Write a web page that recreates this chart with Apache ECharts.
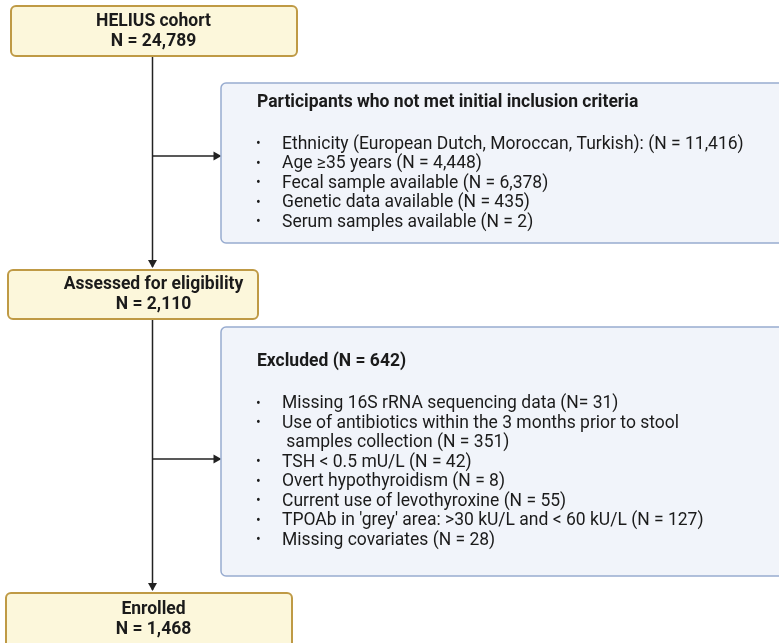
<!DOCTYPE html>
<html><head><meta charset="utf-8">
<script src="https://cdn.jsdelivr.net/npm/echarts@6/dist/echarts.min.js"></script>
<style>html,body{margin:0;padding:0;background:#fff}#c{width:779px;height:643px}</style>
</head><body><div id="c"></div>
<script>
// ---- data ----
var stageTitles = ['HELIUS cohort', 'Assessed for eligibility', 'Enrolled'];
var stageCounts = ['24,789', '2,110', '1,468'];
var exclusionTitles = ['Participants who not met initial inclusion criteria', 'Excluded (N = 642)'];
var exclusion1Items = [
  'Ethnicity (European Dutch, Moroccan, Turkish): (N = 11,416)',
  'Age \u226535 years (N = 4,448)',
  'Fecal sample available (N = 6,378)',
  'Genetic data available (N = 435)',
  'Serum samples available (N = 2)'
];
var exclusion2Items = [
  'Missing 16S rRNA sequencing data (N= 31)',
  'Use of antibiotics within the 3 months prior to stool\n samples collection (N = 351)',
  'TSH < 0.5 mU/L (N = 42)',
  'Overt hypothyroidism (N = 8)',
  'Current use of levothyroxine (N = 55)',
  "TPOAb in 'grey' area: >30 kU/L and < 60 kU/L (N = 127)",
  'Missing covariates (N = 28)'
];

// ---- layout / style ----
var FONT = 'Roboto, "Noto Sans", sans-serif';
var FS = 17.5;
var TXT = '#1b1b1b';
var stageBoxes = [
  {x: 11, y: 6, w: 286, h: 50},
  {x: 8, y: 270, w: 250, h: 49},
  {x: 6, y: 593, w: 286, h: 60}
];
var exclBoxes = [
  {x: 221, y: 83, w: 600, h: 160, arrowY: 156},
  {x: 221, y: 327, w: 600, h: 249, arrowY: 459}
];
var LINE_X = 152.5;
var TEXT_CX = 153.5;
var LH = 19.5;

var g = [];
function arrowHead(x, y, dir) {
  var pts = dir === 'down' ? [[x - 4.5, y - 8], [x + 4.5, y - 8], [x, y]] : [[x - 8, y - 4.5], [x - 8, y + 4.5], [x, y]];
  g.push({type: 'polygon', shape: {points: pts}, style: {fill: '#222'}});
}
function line(x1, y1, x2, y2) {
  g.push({type: 'line', shape: {x1: x1, y1: y1, x2: x2, y2: y2}, style: {stroke: '#222', lineWidth: 1.5}});
}

// connectors
line(LINE_X, stageBoxes[0].y + stageBoxes[0].h, LINE_X, stageBoxes[1].y - 3);
arrowHead(LINE_X, stageBoxes[1].y - 2, 'down');
line(LINE_X, stageBoxes[1].y + stageBoxes[1].h, LINE_X, stageBoxes[2].y - 3);
arrowHead(LINE_X, stageBoxes[2].y - 2, 'down');
exclBoxes.forEach(function (b) {
  line(LINE_X, b.arrowY, b.x - 3, b.arrowY);
  arrowHead(b.x + 0.5, b.arrowY, 'right');
});

// stage boxes
var stageTextOffsets = [[15.5, 36], [15, 35], [16.5, 36.5]];
stageBoxes.forEach(function (b, i) {
  g.push({type: 'rect', shape: {x: b.x, y: b.y, width: b.w, height: b.h, r: 5},
    style: {fill: '#fcf7db', stroke: '#bf9a45', lineWidth: 2}});
  g.push({type: 'text', x: TEXT_CX, y: b.y + stageTextOffsets[i][0], style: {text: stageTitles[i], font: 'bold ' + FS + 'px ' + FONT, fill: TXT, align: 'center', verticalAlign: 'middle'}});
  g.push({type: 'text', x: TEXT_CX, y: b.y + stageTextOffsets[i][1], style: {text: 'N = ' + stageCounts[i], font: 'bold ' + FS + 'px ' + FONT, fill: TXT, align: 'center', verticalAlign: 'middle'}});
});

// exclusion boxes
var itemLists = [exclusion1Items, exclusion2Items];
var titleOffsets = [20, 35];
var itemOffsets = [61.5, 77];
exclBoxes.forEach(function (b, i) {
  g.push({type: 'rect', shape: {x: b.x, y: b.y, width: b.w, height: b.h, r: 5},
    style: {fill: '#f1f4fa', stroke: '#98acd0', lineWidth: 1.5}});
  g.push({type: 'text', x: 257, y: b.y + titleOffsets[i], style: {text: exclusionTitles[i], font: 'bold ' + FS + 'px ' + FONT, fill: TXT, verticalAlign: 'middle'}});
  var row = 0;
  itemLists[i].forEach(function (t) {
    var parts = t.split('\n');
    var y = b.y + itemOffsets[i] + row * LH;
    g.push({type: 'text', x: 256, y: y, style: {text: '\u2022', font: '14px ' + FONT, fill: TXT, verticalAlign: 'middle'}});
    parts.forEach(function (p, k) {
      g.push({type: 'text', x: 282, y: y + k * LH, style: {text: p, font: FS + 'px ' + FONT, fill: TXT, verticalAlign: 'middle'}});
    });
    row += parts.length;
  });
});

var chart = echarts.init(document.getElementById('c'), null, {renderer: 'canvas'});
chart.setOption({animation: false, backgroundColor: '#ffffff', graphic: g});
</script></body></html>
